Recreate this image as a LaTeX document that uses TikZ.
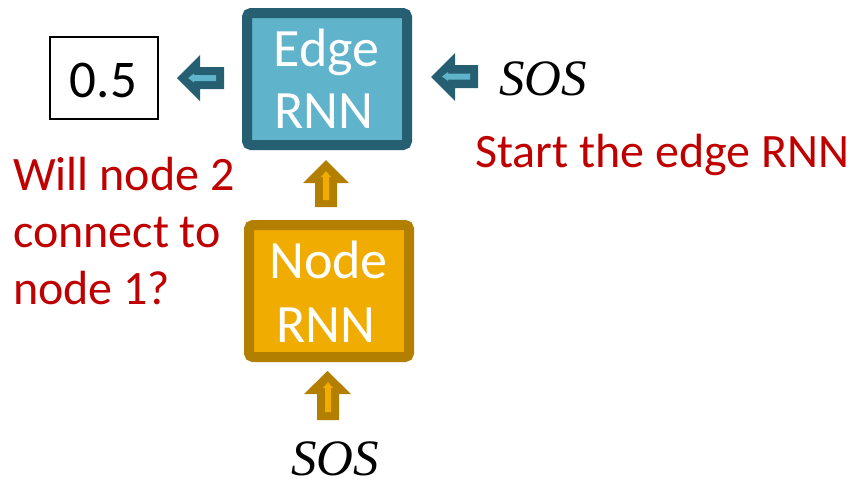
\documentclass[tikz,border=0pt]{standalone}
\usepackage{fontspec}
\setmainfont{Carlito}
\newfontfamily\serifit{Liberation Serif}
\definecolor{edgedark}{HTML}{255F71}
\definecolor{edgelight}{HTML}{5FB3CB}
\definecolor{nodedark}{HTML}{B27F00}
\definecolor{nodelight}{HTML}{F0AC00}
\definecolor{redtxt}{HTML}{C00000}
\tikzset{
  rnnbox/.style={line width=10pt, rounded corners=4pt},
  bigtxt/.style={font=\fontsize{54}{62}\selectfont, text=white, inner sep=0pt},
  redlabel/.style={font=\fontsize{48}{57}\selectfont, text=redtxt, inner sep=0pt},
  sostxt/.style={font=\serifit\itshape\fontsize{51}{60}\selectfont, inner sep=0pt},
}
\begin{document}
\begin{tikzpicture}[x=1pt,y=-1pt]
\useasboundingbox (0,0) rectangle (853,488);
% boxes
\draw[rnnbox, draw=edgedark, fill=edgelight] (247,13) rectangle (407,145);
\coordinate (edge) at (327,79);
\draw[rnnbox, draw=nodedark, fill=nodelight] (249,225) rectangle (409,357);
\coordinate (noderrn) at (329,291);
\node[bigtxt, anchor=base] (edgeA) at (326.5,66) {Edge};
\node[bigtxt, anchor=base] (edgeB) at (324,128) {RNN};
\node[bigtxt, anchor=base] (nodeA) at (328.5,278) {Node};
\node[bigtxt, anchor=base] (nodeB) at (326,342) {RNN};
% output box
\draw[line width=2pt] (50,37) rectangle (158,119);
\node[font=\fontsize{53}{60}\selectfont, anchor=base, inner sep=0pt] (out) at (103.5,97) {0.5};
% up arrow between boxes
\fill[nodedark] (326,160) -- (349,183) -- (337,183) -- (337,207) -- (315,207) -- (315,183) -- (303,183) -- cycle;
\fill[nodelight] (326,171) -- (331,177) -- (329,177) -- (329,200) -- (323,200) -- (323,177) -- (321,177) -- cycle;
% up arrow below node box
\fill[nodedark] (327.5,371) -- (351,394) -- (339,394) -- (339,420) -- (317,420) -- (317,394) -- (304,394) -- cycle;
\fill[nodelight] (328,382) -- (333,388) -- (331,388) -- (331,412) -- (325,412) -- (325,388) -- (323,388) -- cycle;
% left arrow
\fill[edgedark] (177,78) -- (200,55) -- (200,67) -- (224,67) -- (224,89) -- (200,89) -- (200,101) -- cycle;
\fill[edgelight] (188,78) -- (194,73.5) -- (194,75) -- (216,75) -- (216,81) -- (194,81) -- (194,82.5) -- cycle;
% right arrow
\fill[edgedark] (431,77) -- (455,53) -- (455,65) -- (478,65) -- (478,88) -- (455,88) -- (455,101) -- cycle;
\fill[edgelight] (442,76.5) -- (448,72) -- (448,73.5) -- (470,73.5) -- (470,79.5) -- (448,79.5) -- (448,81) -- cycle;
% SOS labels
\node[sostxt, anchor=base west] (sosR) at (499,95) {SOS};
\node[sostxt, anchor=base west] (sosB) at (291,475) {SOS};
% red labels
\node[redlabel, anchor=base west] (start) at (475,167) {Start the edge RNN};
\node[redlabel, anchor=base west] (q1) at (13,190) {Will node 2};
\node[redlabel, anchor=base west] (q2) at (13,247) {connect to};
\node[redlabel, anchor=base west] (q3) at (13,304) {node 1?};
\end{tikzpicture}
\end{document}
